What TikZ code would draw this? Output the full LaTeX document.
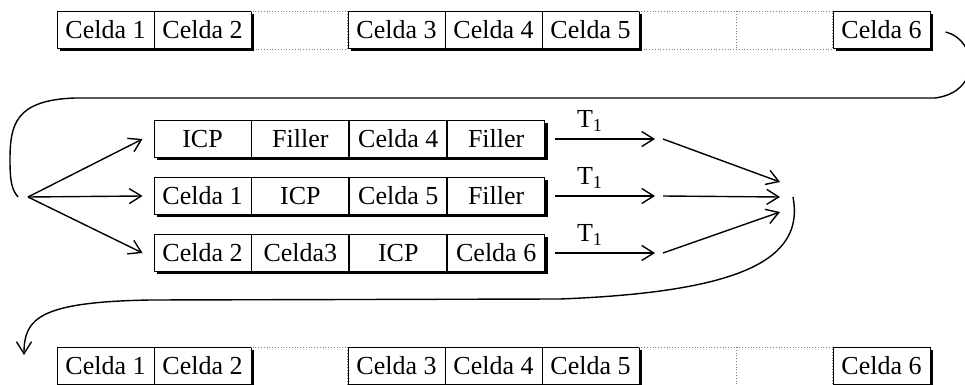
\documentclass[tikz,border=0pt]{standalone}
\usepackage{fontspec}
\setmainfont{Liberation Serif}
\usetikzlibrary{arrows.meta,positioning,calc}

\begin{document}
\begin{tikzpicture}[x=0.5pt,y=-0.5pt,font=\fontsize{13}{15}\selectfont,
  >={Straight Barb[length=6pt,width=7.5pt]},
  cell/.style={draw,minimum width=48.5pt,minimum height=18.5pt,inner sep=0pt,line width=0.45pt},
  slot/.style={draw=gray,densely dotted,line width=0.4pt},
  shade/.style={line width=1.2pt},
  conn/.style={->,line width=0.7pt},
  curve/.style={line width=0.7pt}]
\useasboundingbox (0,0) rectangle (965,385);
% frame before and after (top and bottom rows)
\foreach \n/\y in {t/30,u/366}{
  \foreach \k/\t in {0/Celda 1,1/Celda 2,3/Celda 3,4/Celda 4,5/Celda 5,8/Celda 6}
    \node[cell] (\n\k) at ({105.5+97*\k},\y) {\t};
  \draw[slot] (\n1.north east) rectangle (\n3.south west);
  \draw[slot] (\n5.north east) rectangle (\n8.south west);
  \draw[slot] ($(\n5.north east)!0.5!(\n8.north west)$) -- ($(\n5.south east)!0.5!(\n8.south west)$);
  \foreach \a/\b in {0/1,3/5,8/8}
    \draw[shade] ([xshift=0.6pt,yshift=-1.5pt]\n\b.north east) |- ([xshift=1.5pt,yshift=-0.6pt]\n\a.south west);
}
% the three interleaved rows
\coordinate (fan) at (28,197);
\coordinate (join) at (780,197);
\foreach \r/\y/\la/\lb/\lc/\ld in {a/139/ICP/Filler/Celda 4/Filler,
    b/196/Celda 1/ICP/Celda 5/Filler, c/253/Celda 2/Celda3/ICP/Celda 6}{
  \node[cell] (\r1) at (202.5,\y) {\la};
  \node[cell,right=0pt of \r1] (\r2) {\lb};
  \node[cell,right=0pt of \r2] (\r3) {\lc};
  \node[cell,right=0pt of \r3] (\r4) {\ld};
  \draw[shade] ([xshift=0.6pt,yshift=-1.5pt]\r4.north east) |- ([xshift=1.5pt,yshift=-0.6pt]\r1.south west);
  \coordinate (e\r) at (655,\y);
  \draw[conn] (fan) -- ([xshift=-5.5pt]\r1.west);
  \draw[conn] ([xshift=5pt]\r4.east) -- (e\r) node[pos=0.35,above] (l\r) {T\textsubscript{1}};
}
\foreach \r/\d in {a/7.5pt,b/0pt,c/-7.5pt}
  \draw[conn] ([xshift=4pt]e\r) -- ([yshift=\d]join);
% loops
\draw[curve] ([xshift=7.5pt,yshift=-1pt]t8.east) .. controls (978,40) and (982,92) .. (935,98)
  -- (75,98) .. controls (15,100) and (10,125) .. (10,160) .. controls (10,182) and (12,190) .. ([xshift=-5pt]fan);
\draw[conn] ([xshift=6.5pt]join) .. controls (805,260) and (740,292) .. (560,299)
  -- (150,300) .. controls (40,302) and (24,318) .. (24,355);
\end{tikzpicture}
\end{document}
